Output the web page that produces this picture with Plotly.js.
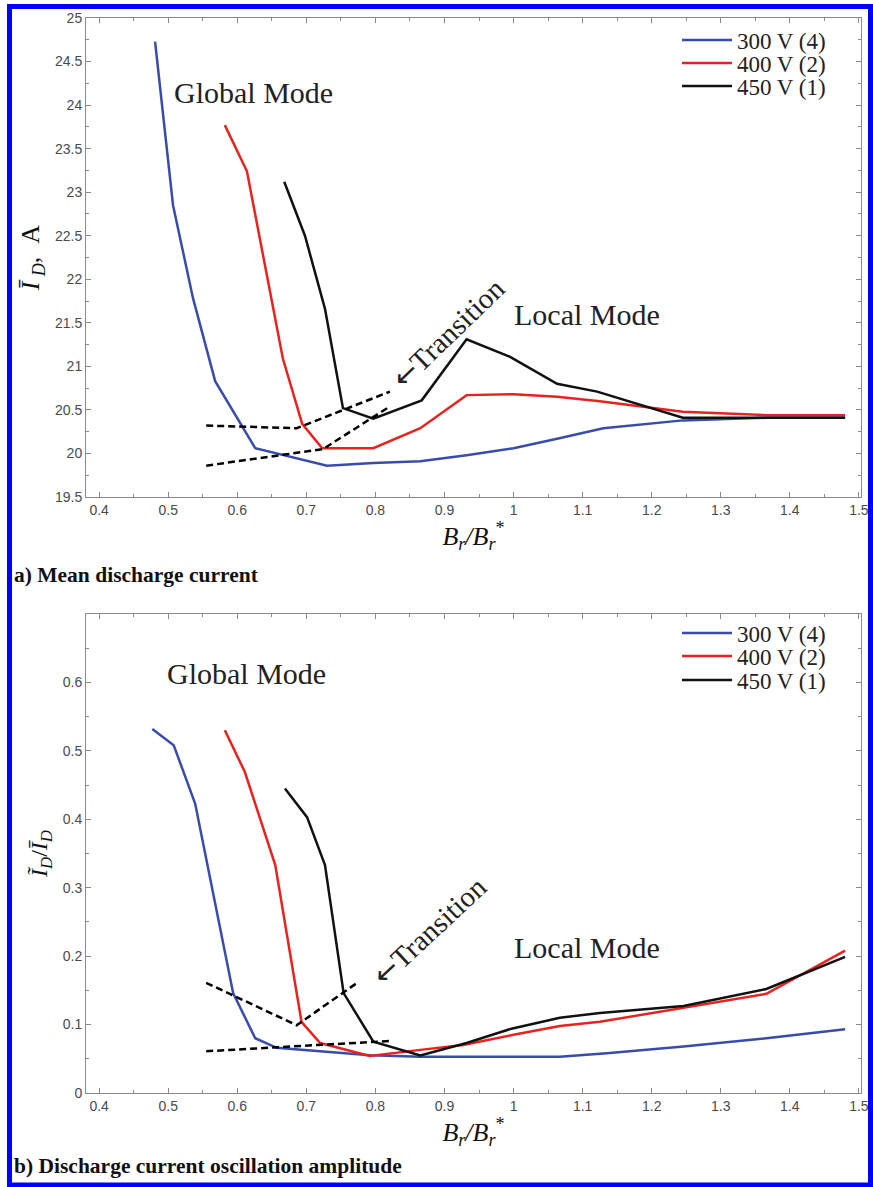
<!DOCTYPE html>
<html>
<head>
<meta charset="utf-8">
<script src="https://cdn.plot.ly/plotly-3.0.1.min.js"></script>
<style>
  html, body { margin: 0; padding: 0; background: #fff; }
  #chart { width: 873px; height: 1187px; }
</style>
</head>
<body>
<div id="chart"></div>
<script>
// ---------- Data: (a) Mean discharge current ----------
var meanX300 = [0.481, 0.507, 0.536, 0.568, 0.626, 0.730, 0.797, 0.865, 0.932, 1.000, 1.063, 1.130, 1.245, 1.367, 1.480];
var meanY300 = [24.73, 22.85, 21.78, 20.83, 20.06, 19.86, 19.89, 19.91, 19.98, 20.06, 20.17, 20.29, 20.38, 20.41, 20.41];
var meanX400 = [0.582, 0.614, 0.666, 0.694, 0.723, 0.797, 0.865, 0.932, 1.000, 1.063, 1.125, 1.245, 1.367, 1.480];
var meanY400 = [23.77, 23.24, 21.09, 20.34, 20.06, 20.06, 20.29, 20.67, 20.68, 20.65, 20.60, 20.48, 20.44, 20.44];
var meanX450 = [0.668, 0.698, 0.727, 0.753, 0.797, 0.867, 0.932, 0.995, 1.063, 1.121, 1.245, 1.367, 1.480];
var meanY450 = [23.12, 22.50, 21.66, 20.52, 20.40, 20.61, 21.31, 21.11, 20.80, 20.71, 20.41, 20.41, 20.41];
// transition guide lines (a)
var meanDashAX = [0.555, 0.686, 0.821];
var meanDashAY = [20.32, 20.29, 20.71];
var meanDashBX = [0.555, 0.724, 0.821];
var meanDashBY = [19.86, 20.05, 20.54];

// ---------- Data: (b) Oscillation amplitude ----------
var ampX300 = [0.477, 0.508, 0.539, 0.594, 0.626, 0.657, 0.792, 0.865, 1.067, 1.135, 1.246, 1.366, 1.480];
var ampY300 = [0.532, 0.508, 0.423, 0.146, 0.080, 0.066, 0.055, 0.053, 0.053, 0.058, 0.068, 0.080, 0.093];
var ampX400 = [0.582, 0.611, 0.655, 0.693, 0.720, 0.792, 0.865, 0.927, 1.000, 1.067, 1.125, 1.246, 1.366, 1.480];
var ampY400 = [0.530, 0.469, 0.333, 0.104, 0.073, 0.054, 0.063, 0.070, 0.085, 0.098, 0.104, 0.125, 0.145, 0.208];
var ampX450 = [0.669, 0.701, 0.727, 0.754, 0.797, 0.865, 0.932, 0.997, 1.067, 1.125, 1.246, 1.366, 1.480];
var ampY450 = [0.445, 0.403, 0.333, 0.146, 0.075, 0.055, 0.073, 0.094, 0.110, 0.117, 0.127, 0.152, 0.199];
// transition guide lines (b)
var ampDashAX = [0.555, 0.686, 0.775];
var ampDashAY = [0.161, 0.099, 0.162];
var ampDashBX = [0.555, 0.821];
var ampDashBY = [0.061, 0.076];

var seriesNames = ['300 V (4)', '400 V (2)', '450 V (1)'];
var seriesColors = ['#3a4cab', '#e8231f', '#111111'];

var serif = 'Liberation Serif';
var sans = 'Liberation Sans';

function line(x, y, i, xa, ya, leg) {
  return {
    x: x, y: y, xaxis: xa, yaxis: ya, type: 'scatter', mode: 'lines',
    name: '<span style="font-family:Liberation Serif">' + seriesNames[i] + '</span>',
    legend: leg, showlegend: true,
    line: { color: seriesColors[i], width: 2.5 }
  };
}
function dashed(x, y, xa, ya) {
  return {
    x: x, y: y, xaxis: xa, yaxis: ya, type: 'scatter', mode: 'lines',
    showlegend: false, hoverinfo: 'skip',
    line: { color: '#000', width: 2.5, dash: '7px,4px' }
  };
}

var data = [
  line(meanX300, meanY300, 0, 'x', 'y', 'legend'),
  line(meanX400, meanY400, 1, 'x', 'y', 'legend2'),
  line(meanX450, meanY450, 2, 'x', 'y', 'legend3'),
  dashed(meanDashAX, meanDashAY, 'x', 'y'),
  dashed(meanDashBX, meanDashBY, 'x', 'y'),
  line(ampX300, ampY300, 0, 'x2', 'y2', 'legend4'),
  line(ampX400, ampY400, 1, 'x2', 'y2', 'legend5'),
  line(ampX450, ampY450, 2, 'x2', 'y2', 'legend6'),
  dashed(ampDashAX, ampDashAY, 'x2', 'y2'),
  dashed(ampDashBX, ampDashBY, 'x2', 'y2')
];

var axisBase = {
  showline: true, linecolor: '#8a8a8a', linewidth: 1, mirror: 'ticks',
  ticks: 'inside', ticklen: 5, tickcolor: '#8a8a8a', tickwidth: 1,
  showgrid: false, zeroline: false,
  tickfont: { family: sans, size: 14, color: '#4a4a4a' }
};
function ax(extra) { return Object.assign({}, axisBase, extra); }

var xTitle = '<i>B</i><sub><i>r</i></sub><i>/B</i><sub><i>r</i></sub><sup>*</sup>';
var arrowTransition = '<span style="font-family:DejaVu Sans">←</span>Transition';

function legendAt(px, py) {
  return {
    x: (px - 86) / 775, xanchor: 'left',
    y: (1093 - py) / 1075, yanchor: 'middle',
    bgcolor: 'rgba(0,0,0,0)', borderwidth: 0,
    font: { family: 'Liberation Serif', size: 23, color: '#222' },
    itemwidth: 50
  };
}

var layout = {
  width: 873, height: 1187,
  margin: { l: 86, r: 12, t: 18, b: 94 },
  paper_bgcolor: '#fff', plot_bgcolor: '#fff',
  font: { family: serif, color: '#222' },
  showlegend: true,
  xaxis: ax({ anchor: 'y', domain: [0, 1], range: [0.381, 1.503], dtick: 0.1, tick0: 0,
    minor: { dtick: 0.05, ticks: 'inside', ticklen: 3, tickcolor: '#8a8a8a', showgrid: false },
    title: { text: xTitle, font: { family: serif, size: 26, color: '#111' }, standoff: 6 } }),
  yaxis: ax({ anchor: 'x', domain: [0.5544, 1], range: [19.5, 25], dtick: 0.5, tick0: 0,
    minor: { dtick: 0.25, ticks: 'inside', ticklen: 3, tickcolor: '#8a8a8a', showgrid: false },
    title: { text: '<i>Ī</i>\u2009<sub><i>D</i></sub>,\u2002A', font: { family: serif, size: 26, color: '#111' }, standoff: 7 } }),
  xaxis2: ax({ anchor: 'y2', domain: [0, 1], range: [0.381, 1.503], dtick: 0.1, tick0: 0,
    minor: { dtick: 0.05, ticks: 'inside', ticklen: 3, tickcolor: '#8a8a8a', showgrid: false },
    title: { text: xTitle, font: { family: serif, size: 26, color: '#111' }, standoff: 6 } }),
  yaxis2: ax({ anchor: 'x2', domain: [0, 0.4456], range: [0, 0.6999], dtick: 0.1, tick0: 0,
    minor: { dtick: 0.05, ticks: 'inside', ticklen: 3, tickcolor: '#8a8a8a', showgrid: false },
    title: { text: '<i>Ĩ</i><sub><i>D</i></sub>/<i>Ī</i><sub><i>D</i></sub>', font: { family: serif, size: 24, color: '#111' }, standoff: 8 } }),
  legend: legendAt(677, 40),
  legend2: legendAt(677, 63),
  legend3: legendAt(677, 86),
  legend4: legendAt(677, 633),
  legend5: legendAt(677, 656),
  legend6: legendAt(677, 680),
  annotations: [
    { xref: 'x', yref: 'y', x: 0.624, y: 24.14, text: 'Global Mode', showarrow: false,
      font: { family: serif, size: 30, color: '#222' } },
    { xref: 'x', yref: 'y', x: 1.106, y: 21.60, text: 'Local Mode', showarrow: false,
      font: { family: serif, size: 30, color: '#222' } },
    { xref: 'x', yref: 'y', x: 0.906, y: 21.38, text: arrowTransition, showarrow: false, textangle: -44,
      font: { family: serif, size: 29, color: '#222' } },
    { xref: 'x2', yref: 'y2', x: 0.614, y: 0.613, text: 'Global Mode', showarrow: false,
      font: { family: serif, size: 30, color: '#222' } },
    { xref: 'x2', yref: 'y2', x: 1.106, y: 0.213, text: 'Local Mode', showarrow: false,
      font: { family: serif, size: 30, color: '#222' } },
    { xref: 'x2', yref: 'y2', x: 0.878, y: 0.237, text: arrowTransition, showarrow: false, textangle: -43,
      font: { family: serif, size: 29, color: '#222' } },
    { xref: 'paper', yref: 'paper', x: (12 - 86) / 775, y: (1093 - 575) / 1075, xanchor: 'left', yanchor: 'middle',
      text: '<b>a) Mean discharge current</b>', showarrow: false,
      font: { family: serif, size: 21.5, color: '#111' } },
    { xref: 'paper', yref: 'paper', x: (12 - 86) / 775, y: (1093 - 1166) / 1075, xanchor: 'left', yanchor: 'middle',
      text: '<b>b) Discharge current oscillation amplitude</b>', showarrow: false,
      font: { family: serif, size: 21.5, color: '#111' } }
  ],
  shapes: [
    { type: 'rect', xref: 'paper', yref: 'paper',
      x0: (9.5 - 86) / 775, x1: (870.5 - 86) / 775,
      y0: (1093 - 1185) / 1075, y1: (1093 - 6.5) / 1075,
      line: { color: '#0000ff', width: 5 }, fillcolor: 'rgba(0,0,0,0)' }
  ]
};

Plotly.newPlot('chart', data, layout, { displayModeBar: false, staticPlot: true });
</script>
</body>
</html>
